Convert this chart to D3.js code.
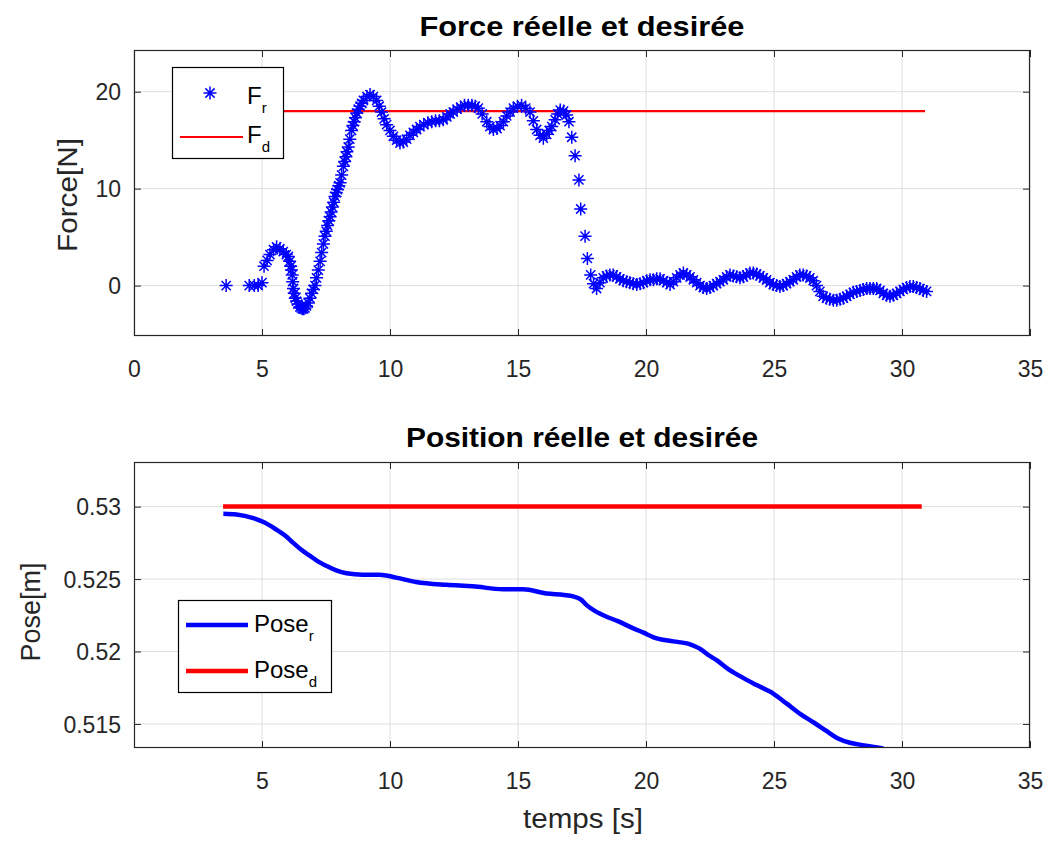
<!DOCTYPE html>
<html><head><meta charset="utf-8">
<script src="https://cdn.jsdelivr.net/npm/d3@7"></script>
<style>body{margin:0;background:#fff}svg{display:block}text{font-family:"Liberation Sans",Arial,sans-serif}</style>
</head><body><svg id="c" width="1050" height="843"></svg>
<script>
// ---------- data ----------
const forceT = [3.6,4.5,4.7,4.85,5.0,5.08,5.2,5.31,5.45,5.57,5.7,5.83,5.95,6.03,6.08,6.12,6.15,6.18,6.2,6.23,6.26,6.3,6.35,6.4,6.48,6.53,6.58,6.63,6.68,6.74,6.81,6.87,6.94,7.0,7.07,7.13,7.2,7.27,7.33,7.4,7.46,7.51,7.56,7.61,7.66,7.7,7.75,7.8,7.85,7.9,7.95,8.0,8.05,8.11,8.18,8.23,8.28,8.32,8.37,8.43,8.5,8.55,8.6,8.65,8.7,8.76,8.83,8.9,8.96,9.1,9.22,9.35,9.48,9.58,9.67,9.77,9.87,10.0,10.13,10.26,10.39,10.52,10.65,10.78,10.91,11.04,11.17,11.32,11.48,11.63,11.78,11.93,12.08,12.22,12.35,12.47,12.62,12.76,12.91,13.06,13.2,13.33,13.45,13.6,13.78,13.9,14.04,14.18,14.3,14.43,14.56,14.69,14.82,14.98,15.14,15.3,15.47,15.6,15.73,15.86,15.99,16.12,16.22,16.32,16.45,16.55,16.65,16.78,16.9,16.99,17.1,17.23,17.38,17.45,17.62,17.71,17.84,17.95,18.07,18.2,18.33,18.46,18.59,18.72,18.85,18.98,19.11,19.24,19.37,19.5,19.64,19.77,19.9,20.03,20.16,20.29,20.42,20.55,20.68,20.81,20.94,21.07,21.2,21.33,21.46,21.59,21.72,21.85,21.98,22.11,22.24,22.37,22.5,22.63,22.76,22.89,23.02,23.15,23.28,23.41,23.54,23.67,23.8,23.93,24.06,24.19,24.32,24.45,24.58,24.71,24.84,24.97,25.1,25.23,25.36,25.49,25.62,25.75,25.88,26.01,26.14,26.27,26.4,26.53,26.66,26.79,26.92,27.05,27.18,27.32,27.45,27.58,27.71,27.84,27.97,28.1,28.23,28.36,28.49,28.62,28.75,28.88,29.01,29.14,29.27,29.4,29.53,29.66,29.79,29.92,30.05,30.18,30.31,30.44,30.57,30.7,30.83,30.96];
const forceR = [0,0,0,0,0.3,2.0,2.6,3.2,3.7,4.0,3.8,3.5,3.2,3.0,2.5,2.0,1.6,1.1,0.4,-0.3,-0.8,-1.3,-1.6,-1.9,-2.2,-2.3,-2.4,-2.4,-2.3,-2.1,-1.8,-1.3,-0.8,-0.4,0.0,0.8,1.6,2.5,3.4,4.3,5.1,5.6,6.2,6.7,7.1,7.6,8.1,8.6,9.2,9.6,9.9,10.3,10.6,11.4,12.3,12.8,13.3,13.8,14.3,15.1,16.0,16.5,16.9,17.3,17.8,18.2,18.5,18.8,19.1,19.5,19.7,19.5,19.1,18.5,17.9,17.2,16.6,16.0,15.4,15.0,14.7,14.8,15.1,15.5,15.8,16.1,16.4,16.6,16.8,16.9,17.0,17.0,17.1,17.4,17.7,17.9,18.2,18.4,18.6,18.6,18.6,18.5,18.3,17.7,16.9,16.4,16.1,16.2,16.5,16.9,17.5,17.9,18.3,18.5,18.6,18.3,17.9,17.0,16.1,15.5,15.2,15.6,16.0,16.4,17.1,17.7,18.1,18.0,17.6,16.9,15.3,13.4,10.9,7.9,5.1,2.8,1.1,0.2,-0.3,0.3,0.8,1.0,1.1,1.1,0.9,0.7,0.5,0.4,0.3,0.2,0.1,0.2,0.3,0.5,0.6,0.6,0.7,0.7,0.5,0.3,0.1,0.4,0.8,1.1,1.3,1.1,0.9,0.6,0.3,0.0,-0.2,-0.3,-0.2,0.0,0.2,0.4,0.6,0.9,1.1,1.0,0.9,0.8,0.9,1.1,1.3,1.3,1.2,1.0,0.8,0.6,0.3,0.1,0.0,-0.1,0.0,0.2,0.4,0.6,0.9,1.1,1.1,1.0,0.8,0.5,0.0,-0.6,-1.1,-1.3,-1.4,-1.5,-1.5,-1.4,-1.3,-1.1,-0.9,-0.7,-0.6,-0.5,-0.4,-0.3,-0.3,-0.3,-0.3,-0.5,-0.8,-1.0,-1.1,-1.0,-0.8,-0.6,-0.4,-0.2,-0.1,-0.1,-0.2,-0.3,-0.5,-0.6];
const forceDT = [3.6, 30.9];
const forceDV = [18, 18];

const poseT = [3.49,4.0,4.66,5.1,5.57,5.9,6.22,6.55,6.88,7.2,7.53,7.9,8.3,8.93,9.59,10.24,11.02,12.2,13.24,14.42,15.2,16.12,16.8,17.16,17.45,17.68,18.0,18.46,18.9,19.38,19.9,20.42,21.07,21.72,22.1,22.4,22.76,23.2,23.67,24.3,24.97,25.5,26.02,26.55,27.06,27.5,27.97,28.6,29.27];
const poseR = [0.5295,0.52945,0.5292,0.5289,0.5284,0.528,0.5275,0.527,0.5266,0.5262,0.5259,0.5256,0.5254,0.5253,0.5253,0.5251,0.5248,0.5246,0.5245,0.5243,0.5243,0.524,0.5239,0.5238,0.5236,0.5232,0.5228,0.5224,0.5221,0.5217,0.5213,0.5209,0.5207,0.5205,0.5202,0.5198,0.5194,0.5188,0.5183,0.5177,0.5171,0.5164,0.5157,0.5151,0.5145,0.514,0.5137,0.5135,0.5133];
const poseDT = [3.48, 30.77];
const poseDV = [0.53, 0.53];

const topXTicks = [0,5,10,15,20,25,30,35];
const topYTicks = [0,10,20];
const botXTicks = [5,10,15,20,25,30,35];
const botYTicks = [0.515,0.52,0.525,0.53];
const botYLabels = ["0.515","0.52","0.525","0.53"];

// ---------- drawing ----------
const svg = d3.select("#c");
const BLUE = "#0000ff", RED = "#ff0000", AX = "#262626", GRID = "#dedede";

function panel(box, xDom, yDom, xTicks, yTicks, yFmt, id) {
  const x = d3.scaleLinear().domain(xDom).range([box.x0, box.x1]);
  const y = d3.scaleLinear().domain(yDom).range([box.y1, box.y0]);
  const g = svg.append("g");
  g.append("rect").attr("x", box.x0).attr("y", box.y0).attr("width", box.x1 - box.x0).attr("height", box.y1 - box.y0).attr("fill", "#fff");
  g.selectAll(null).data(xTicks).join("line")
    .attr("x1", d => x(d)).attr("x2", d => x(d)).attr("y1", box.y0).attr("y2", box.y1)
    .attr("stroke", GRID).attr("stroke-width", 1);
  g.selectAll(null).data(yTicks).join("line")
    .attr("y1", d => y(d)).attr("y2", d => y(d)).attr("x1", box.x0).attr("x2", box.x1)
    .attr("stroke", GRID).attr("stroke-width", 1);
  svg.append("clipPath").attr("id", id).append("rect")
    .attr("x", box.x0).attr("y", box.y0).attr("width", box.x1 - box.x0).attr("height", box.y1 - box.y0);
  const plot = svg.append("g").attr("clip-path", `url(#${id})`);
  const frame = svg.append("g");
  const tl = 7;
  frame.append("g").attr("transform", `translate(0,${box.y1})`)
    .call(d3.axisBottom(x).tickValues(xTicks).tickSizeInner(-tl).tickSizeOuter(0).tickFormat(d3.format("d")))
    .call(s => { s.select(".domain").remove(); s.selectAll("line").attr("stroke", AX);
      s.selectAll("text").attr("fill", AX).attr("font-size", 23).attr("dy", 0).attr("y", 41); });
  frame.append("g").attr("transform", `translate(0,${box.y0})`)
    .call(d3.axisTop(x).tickValues(xTicks).tickSizeInner(-tl).tickSizeOuter(0).tickFormat(""))
    .call(s => { s.select(".domain").remove(); s.selectAll("line").attr("stroke", AX); });
  frame.append("g").attr("transform", `translate(${box.x0},0)`)
    .call(d3.axisLeft(y).tickValues(yTicks).tickSizeInner(-tl).tickSizeOuter(0).tickFormat(yFmt))
    .call(s => { s.select(".domain").remove(); s.selectAll("line").attr("stroke", AX);
      s.selectAll("text").attr("fill", AX).attr("font-size", 23).attr("x", -13).attr("dy", "0.35em"); });
  frame.append("g").attr("transform", `translate(${box.x1},0)`)
    .call(d3.axisRight(y).tickValues(yTicks).tickSizeInner(-tl).tickSizeOuter(0).tickFormat(""))
    .call(s => { s.select(".domain").remove(); s.selectAll("line").attr("stroke", AX); });
  frame.append("rect").attr("x", box.x0 + 0.5).attr("y", box.y0 + 0.5)
    .attr("width", box.x1 - box.x0 - 1).attr("height", box.y1 - box.y0 - 1)
    .attr("fill", "none").attr("stroke", AX).attr("stroke-width", 1.2);
  return { x, y, plot, frame };
}

const starPath = "M-6.5,0H6.5M0,-6.5V6.5M-4.6,-4.6L4.6,4.6M-4.6,4.6L4.6,-4.6";

// ---- top panel ----
const topP = panel({ x0: 134, x1: 1030, y0: 50, y1: 336 }, [0, 35], [-5.2, 24.3], topXTicks, topYTicks, d3.format("d"), "clipTop");
topP.plot.append("path")
  .datum(forceDT.map((t, i) => [t, forceDV[i]]))
  .attr("d", d3.line().x(d => topP.x(d[0])).y(d => topP.y(d[1])))
  .attr("fill", "none").attr("stroke", RED).attr("stroke-width", 2.2);
topP.plot.selectAll(null).data(forceT.map((t, i) => [t, forceR[i]])).join("path")
  .attr("transform", d => `translate(${topP.x(d[0])},${topP.y(d[1])})`)
  .attr("d", starPath).attr("fill", "none").attr("stroke", BLUE).attr("stroke-width", 1.5);

// ---- bottom panel ----
const botP = panel({ x0: 134, x1: 1030, y0: 462, y1: 748 }, [0, 35], [0.51334, 0.53308], botXTicks, botYTicks, (d, i) => botYLabels[i], "clipBot");
botP.plot.append("path")
  .datum(poseDT.map((t, i) => [t, poseDV[i]]))
  .attr("d", d3.line().x(d => botP.x(d[0])).y(d => botP.y(d[1])))
  .attr("fill", "none").attr("stroke", RED).attr("stroke-width", 4.5);
botP.plot.append("path")
  .datum(poseT.map((t, i) => [t, poseR[i]]))
  .attr("d", d3.line().curve(d3.curveMonotoneX).x(d => botP.x(d[0])).y(d => botP.y(d[1])))
  .attr("fill", "none").attr("stroke", BLUE).attr("stroke-width", 4.5);

// ---- titles & labels ----
svg.append("text").attr("x", 582).attr("y", 36).attr("text-anchor", "middle")
  .attr("font-size", 27).attr("font-weight", "bold").attr("fill", "#000")
  .attr("textLength", 325).attr("lengthAdjust", "spacingAndGlyphs").text("Force réelle et desirée");
svg.append("text").attr("x", 582).attr("y", 447).attr("text-anchor", "middle")
  .attr("font-size", 27).attr("font-weight", "bold").attr("fill", "#000")
  .attr("textLength", 352).attr("lengthAdjust", "spacingAndGlyphs").text("Position réelle et desirée");
svg.append("text").attr("transform", "translate(77,195) rotate(-90)").attr("text-anchor", "middle")
  .attr("font-size", 27).attr("fill", AX)
  .attr("textLength", 114).attr("lengthAdjust", "spacingAndGlyphs").text("Force[N]");
svg.append("text").attr("transform", "translate(40,612) rotate(-90)").attr("text-anchor", "middle")
  .attr("font-size", 27).attr("fill", AX)
  .attr("textLength", 99).attr("lengthAdjust", "spacingAndGlyphs").text("Pose[m]");
svg.append("text").attr("x", 583).attr("y", 828).attr("text-anchor", "middle")
  .attr("font-size", 27).attr("fill", AX)
  .attr("textLength", 120).attr("lengthAdjust", "spacingAndGlyphs").text("temps [s]");

// ---- legends ----
function legendLabel(g, x, y, main, sub) {
  const t = g.append("text").attr("x", x).attr("y", y).attr("font-size", 24).attr("fill", "#000");
  t.append("tspan").text(main);
  t.append("tspan").attr("dy", 9).attr("font-size", 15).text(sub);
}
const lg1 = topP.frame.append("g");
lg1.append("rect").attr("x", 172.5).attr("y", 67.5).attr("width", 111).attr("height", 91)
  .attr("fill", "#fff").attr("stroke", "#000").attr("stroke-width", 1.2);
lg1.append("path").attr("transform", "translate(210,93)").attr("d", starPath)
  .attr("fill", "none").attr("stroke", BLUE).attr("stroke-width", 1.5);
legendLabel(lg1, 247, 104, "F", "r");
lg1.append("line").attr("x1", 180).attr("x2", 243).attr("y1", 137).attr("y2", 137)
  .attr("stroke", RED).attr("stroke-width", 2.2);
legendLabel(lg1, 247, 143, "F", "d");

const lg2 = botP.frame.append("g");
lg2.append("rect").attr("x", 178.5).attr("y", 600.5).attr("width", 153).attr("height", 92)
  .attr("fill", "#fff").attr("stroke", "#000").attr("stroke-width", 1.2);
lg2.append("line").attr("x1", 186).attr("x2", 248).attr("y1", 625).attr("y2", 625)
  .attr("stroke", BLUE).attr("stroke-width", 4.5);
legendLabel(lg2, 254, 632, "Pose", "r");
lg2.append("line").attr("x1", 186).attr("x2", 248).attr("y1", 671).attr("y2", 671)
  .attr("stroke", RED).attr("stroke-width", 4.5);
legendLabel(lg2, 254, 678, "Pose", "d");
</script></body></html>
